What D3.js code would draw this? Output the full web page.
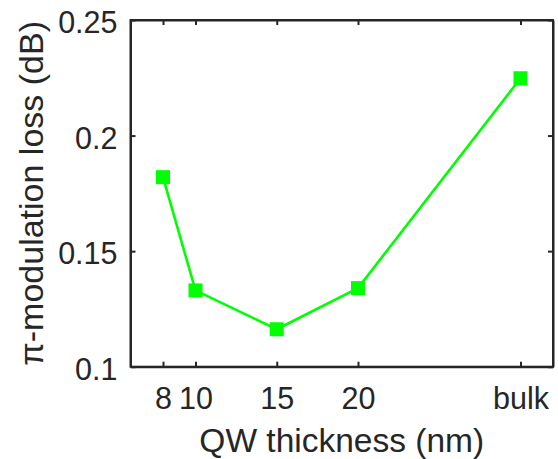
<!DOCTYPE html>
<html>
<head>
<meta charset="utf-8">
<script src="https://cdn.jsdelivr.net/npm/d3@7"></script>
<style>
  html, body { margin: 0; padding: 0; background: #fff; }
  svg { display: block; font-family: "Liberation Sans", Arial, Helvetica, sans-serif; }
</style>
</head>
<body>
<svg id="chart" width="558" height="459"></svg>
<script>
// ---- data ----
const xPositions = [8, 10, 15, 20, 30];
const xTickLabels = ["8", "10", "15", "20", "bulk"];
const lossValues = [0.182, 0.133, 0.1162, 0.134, 0.2248];
const yTicks = [0.1, 0.15, 0.2, 0.25];
const yTickLabels = ["0.1", "0.15", "0.2", "0.25"];
const xLabel = "QW thickness (nm)";
const yLabel = "\u03C0-modulation loss (dB)";

(function () {
// ---- layout ----
const mLeft = 130.5, mRight = 553, mTop = 20, mBottom = 366.7;
const axisColor = "#262626";
const green = "#00ff00";

const svg = d3.select("#chart");

const x = d3.scaleLinear().domain([6, 32]).range([mLeft, mRight]);
const y = d3.scaleLinear().domain([0.1, 0.25]).range([mBottom, mTop]);

// data line
const data = xPositions.map((d, i) => ({ x: d, y: lossValues[i] }));
svg.append("path")
  .datum(data)
  .attr("fill", "none")
  .attr("stroke", green)
  .attr("stroke-width", 2.6)
  .attr("stroke-linejoin", "round")
  .attr("d", d3.line().x(d => x(d.x)).y(d => y(d.y)));

const ms = 14;
svg.selectAll("rect.marker")
  .data(data)
  .join("rect")
  .attr("class", "marker")
  .attr("x", d => x(d.x) - ms / 2)
  .attr("y", d => y(d.y) - ms / 2)
  .attr("width", ms)
  .attr("height", ms)
  .attr("fill", green);

// axes (box with inward ticks)
const tickLen = 5;
const fmtX = d => xTickLabels[xPositions.indexOf(d)];
const fmtY = d => yTickLabels[yTicks.indexOf(d)];

function styleAxis(g) {
  g.select(".domain").attr("stroke", axisColor).attr("stroke-width", 2);
  g.selectAll(".tick line").attr("stroke", axisColor).attr("stroke-width", 2);
  g.selectAll(".tick text").attr("fill", axisColor).attr("font-size", 30.5)
    .attr("font-family", "'Liberation Sans', Arial, sans-serif");
}

// bottom
svg.append("g")
  .attr("transform", `translate(0,${mBottom})`)
  .call(d3.axisBottom(x).tickValues(xPositions).tickFormat(fmtX)
    .tickSizeInner(-tickLen).tickSizeOuter(0).tickPadding(20))
  .call(styleAxis)
  .call(g => g.selectAll(".tick text").attr("dy", "0.71em").attr("y", 21));

// top
svg.append("g")
  .attr("transform", `translate(0,${mTop})`)
  .call(d3.axisTop(x).tickValues(xPositions).tickFormat("")
    .tickSizeInner(-tickLen).tickSizeOuter(0))
  .call(styleAxis);

// left
svg.append("g")
  .attr("transform", `translate(${mLeft},0)`)
  .call(d3.axisLeft(y).tickValues(yTicks).tickFormat(fmtY)
    .tickSizeInner(-tickLen).tickSizeOuter(0).tickPadding(13))
  .call(styleAxis)
  .call(g => g.selectAll(".tick text").attr("x", -13).attr("dy", "0.42em"));

// right
svg.append("g")
  .attr("transform", `translate(${mRight},0)`)
  .call(d3.axisRight(y).tickValues(yTicks).tickFormat("")
    .tickSizeInner(-tickLen).tickSizeOuter(0))
  .call(styleAxis);

// frame
svg.append("rect")
  .attr("x", mLeft).attr("y", mTop)
  .attr("width", mRight - mLeft).attr("height", mBottom - mTop)
  .attr("fill", "none").attr("stroke", axisColor).attr("stroke-width", 2);

// axis labels
svg.append("text")
  .attr("x", (mLeft + mRight) / 2)
  .attr("y", 452)
  .attr("text-anchor", "middle")
  .attr("font-size", 33.5)
  .attr("fill", axisColor)
  .text(xLabel);

svg.append("text")
  .attr("transform", `translate(43,${(mTop + mBottom) / 2}) rotate(-90)`)
  .attr("text-anchor", "middle")
  .attr("font-size", 34)
  .attr("fill", axisColor)
  .text(yLabel);
})();
</script>
</body>
</html>
